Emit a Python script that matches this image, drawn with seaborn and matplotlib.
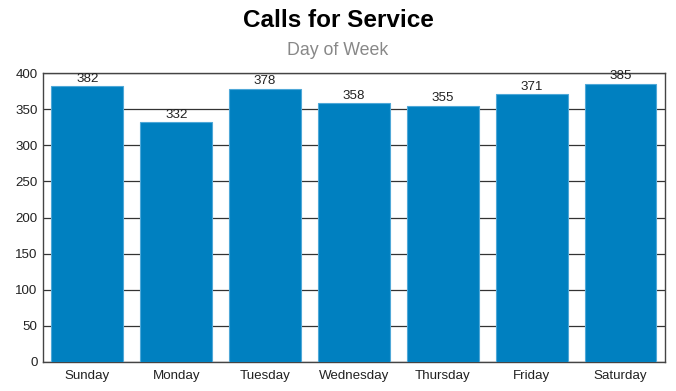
import matplotlib
matplotlib.use("Agg")
import matplotlib.pyplot as plt
import seaborn as sns
import pandas as pd

days = ["Sunday", "Monday", "Tuesday", "Wednesday", "Thursday", "Friday", "Saturday"]
calls = [382, 332, 378, 358, 355, 371, 385]
yticks = [0, 50, 100, 150, 200, 250, 300, 350, 400]

sns.set_theme(style="white")
plt.rcParams['font.family'] = ['Liberation Sans', 'DejaVu Sans']

df = pd.DataFrame({"day": days, "calls": calls})

fig = plt.figure(figsize=(6.76, 3.91), dpi=100)
ax = fig.add_axes([0.0636, 0.0742, 0.92, 0.739])

sns.barplot(data=df, x="day", y="calls", ax=ax, color="#0080C0", saturation=1,
            width=0.81, edgecolor="#4fa8d8", linewidth=0.8, zorder=3)

ax.set_ylim(0, 400)
ax.set_yticks(yticks)
ax.set_xlim(-0.5, len(days) - 0.5)
ax.yaxis.grid(True, color="#333333", linewidth=0.9, zorder=0)
ax.set_axisbelow(True)
ax.set_xlabel("")
ax.set_ylabel("")
ax.tick_params(axis="both", labelsize=9.6, colors="#222222", length=0, pad=4)
ax.tick_params(axis="x", pad=6)
for s in ax.spines.values():
    s.set_color("#444444")
    s.set_linewidth(1)

for i, v in enumerate(calls):
    ax.text(i, v + 2, str(v), ha="center", va="bottom", fontsize=9.6, color="#222222", zorder=4)

fig.text(0.5, 0.947, "Calls for Service", ha="center", va="center",
         fontsize=17.5, fontweight="bold", color="black")
fig.text(0.5, 0.871, "Day of Week", ha="center", va="center",
         fontsize=12.8, color="#888888")

fig.savefig("out.png", dpi=100)
